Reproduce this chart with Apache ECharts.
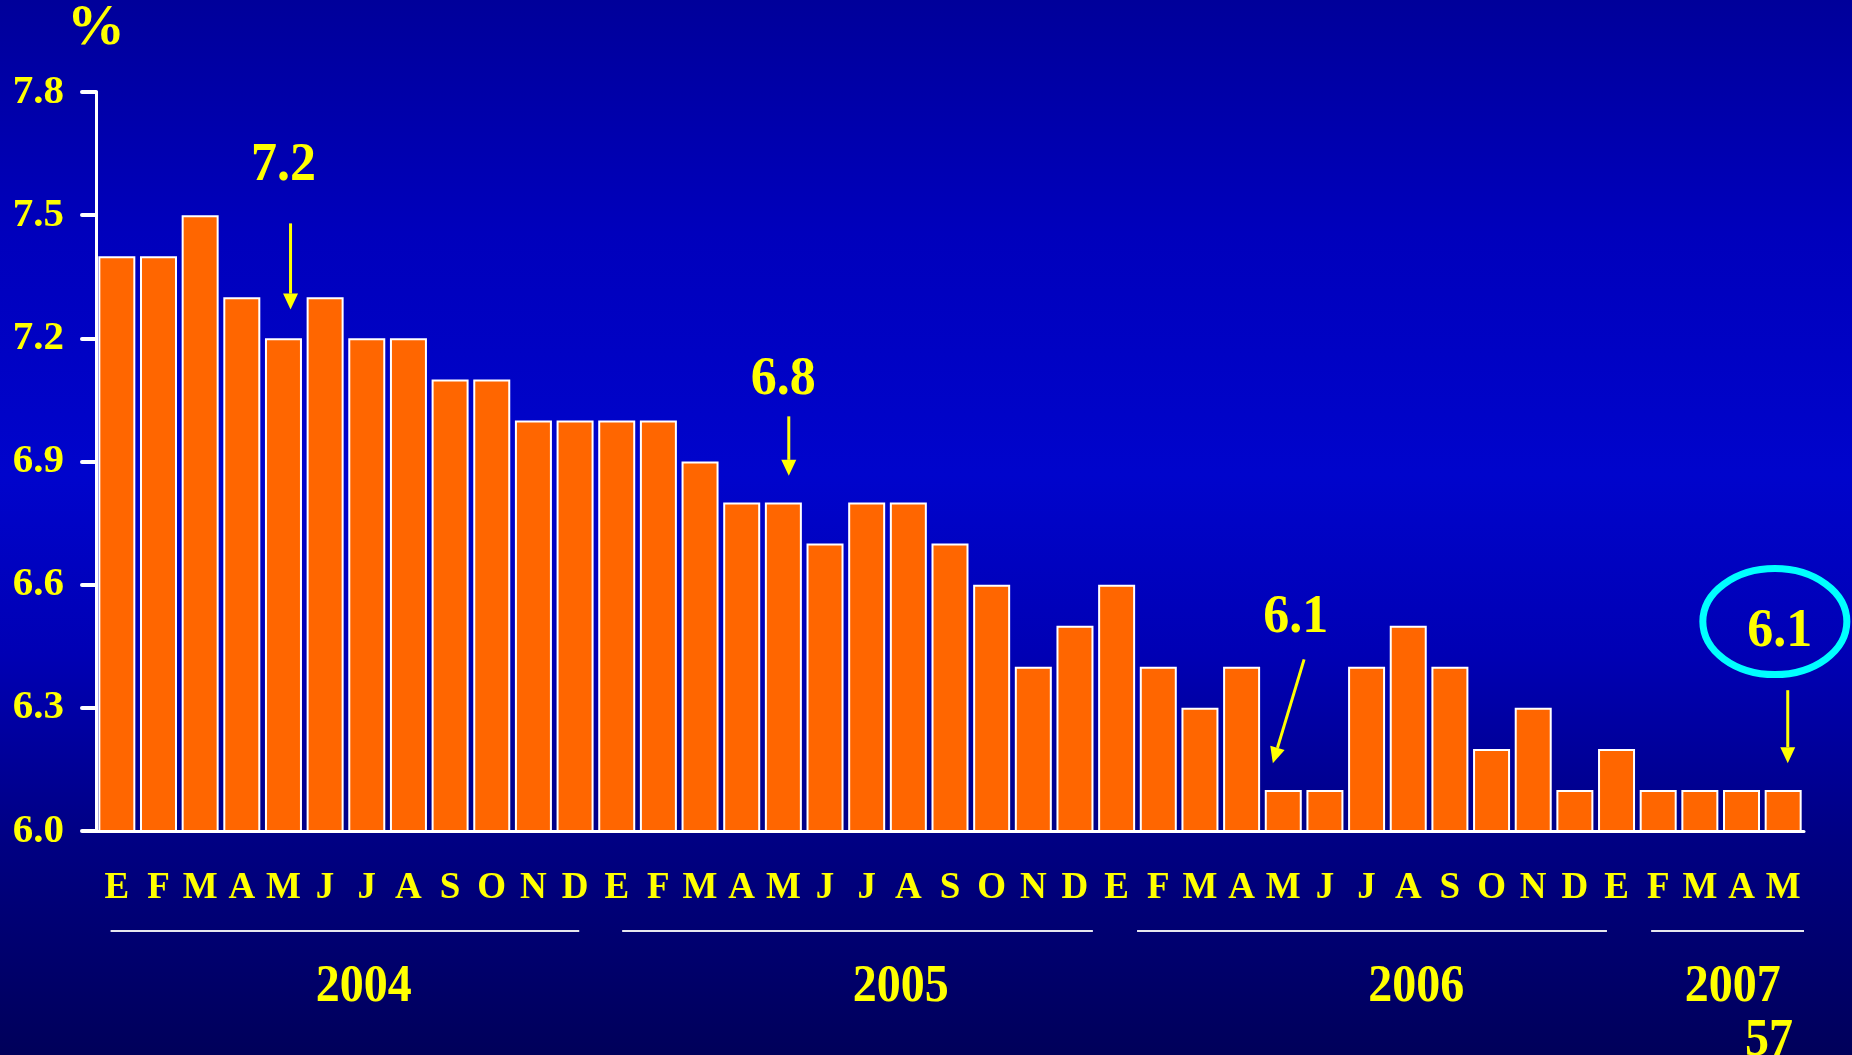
<!DOCTYPE html>
<html>
<head>
<meta charset="utf-8">
<script src="https://cdn.jsdelivr.net/npm/echarts@6/dist/echarts.min.js"></script>
<style>
  html, body { margin: 0; padding: 0; }
  #main { width: 1852px; height: 1055px; }
</style>
</head>
<body>
<div id="main"></div>
<script>
// months, Jan 2004 .. May 2007 (E = enero)
var months = [
  'E', 'F', 'M', 'A', 'M', 'J', 'J', 'A', 'S', 'O', 'N', 'D',
  'E', 'F', 'M', 'A', 'M', 'J', 'J', 'A', 'S', 'O', 'N', 'D',
  'E', 'F', 'M', 'A', 'M', 'J', 'J', 'A', 'S', 'O', 'N', 'D',
  'E', 'F', 'M', 'A', 'M'
]
var rate = [
  7.4, 7.4, 7.5, 7.3, 7.2, 7.3, 7.2, 7.2, 7.1, 7.1, 7.0, 7.0,
  7.0, 7.0, 6.9, 6.8, 6.8, 6.7, 6.8, 6.8, 6.7, 6.6, 6.4, 6.5,
  6.6, 6.4, 6.3, 6.4, 6.1, 6.1, 6.4, 6.5, 6.4, 6.2, 6.3, 6.1,
  6.2, 6.1, 6.1, 6.1, 6.1
]
var yMin = 6.0
var yMax = 7.8
var yStep = 0.3

// year groups under the axis: label, first/last category covered by the rule, label position
var years = ['2004', '2005', '2006', '2007']
var yearFrom = [-0.15, 12.13, 24.49, 36.83]
var yearTo = [11.1, 23.43, 35.77, 40.5]
var yearAt = [5.93, 18.82, 31.19, 38.79]

// callouts (category index, value)
var callouts = ['7.2', '6.8', '6.1', '6.1']
var calloutAt = [[4.0, 7.62], [16.0, 7.1], [28.3, 6.52], [39.92, 6.486]]
var arrowFrom = [[4.17, 7.48], [16.13, 7.01], [28.5, 6.418], [40.11, 6.343]]
var arrowTo = [[4.17, 7.27], [16.13, 6.865], [27.75, 6.165], [40.11, 6.165]]
var ringAt = [39.8, 6.51]

var SERIF = '"Liberation Serif", "Times New Roman", serif'
var YELLOW = '#FFFF00'

var chart = echarts.init(document.getElementById('main'))

var option = {
  backgroundColor: {
    type: 'linear', x: 0, y: 0, x2: 0, y2: 1,
    colorStops: [
      { offset: 0, color: '#00009A' },
      { offset: 0.22, color: '#0000BC' },
      { offset: 0.45, color: '#0004CC' },
      { offset: 0.62, color: '#0000B4' },
      { offset: 0.8, color: '#000082' },
      { offset: 1, color: '#00005A' }
    ]
  },
  animation: false,
  grid: { left: 96, right: 48, top: 90, bottom: 224 },
  xAxis: {
    type: 'category',
    data: months,
    axisLine: { lineStyle: { color: '#fff', width: 3 } },
    axisTick: { show: false },
    axisLabel: {
      interval: 0,
      margin: 39,
      color: YELLOW,
      fontFamily: SERIF,
      fontWeight: 'bold',
      fontSize: 37
    }
  },
  yAxis: {
    type: 'value',
    min: yMin,
    max: yMax,
    interval: yStep,
    name: '%',
    nameLocation: 'end',
    nameGap: 34,
    nameTextStyle: {
      color: YELLOW,
      fontFamily: SERIF,
      fontWeight: 'bold',
      fontSize: 58,
      padding: [0, 0, 0, 0],
      textShadowColor: '#000020',
      textShadowOffsetX: 3,
      textShadowOffsetY: 3
    },
    splitLine: { show: false },
    axisLine: { show: true, lineStyle: { color: '#fff', width: 3 } },
    axisTick: { show: true, inside: false, length: 14, lineStyle: { color: '#fff', width: 4, cap: 'round' } },
    axisLabel: {
      margin: 32,
      color: YELLOW,
      fontFamily: SERIF,
      fontWeight: 'bold',
      fontSize: 41,
      formatter: function (v) { return v.toFixed(1) }
    }
  },
  series: [{
    type: 'bar',
    data: rate,
    barWidth: 37,
    itemStyle: { color: '#FF6600', borderColor: '#FFFFFF', borderWidth: 2 }
  }]
}
chart.setOption(option)

function px(i, v) {
  var x0 = chart.convertToPixel({ xAxisIndex: 0 }, 0)
  var x1 = chart.convertToPixel({ xAxisIndex: 0 }, 1)
  return [x0 + i * (x1 - x0), chart.convertToPixel({ yAxisIndex: 0 }, v)]
}

function arrow(a, b) {
  var p = px(a[0], a[1])
  var q = px(b[0], b[1])
  var dx = q[0] - p[0]
  var dy = q[1] - p[1]
  var len = Math.sqrt(dx * dx + dy * dy)
  var ux = dx / len
  var uy = dy / len
  var head = 16
  var half = 7.5
  var bx = q[0] - ux * head
  var by = q[1] - uy * head
  return [
    { type: 'line', shape: { x1: p[0], y1: p[1], x2: bx, y2: by }, style: { stroke: YELLOW, lineWidth: 3 } },
    {
      type: 'polygon',
      shape: { points: [[q[0], q[1]], [bx - uy * half, by + ux * half], [bx + uy * half, by - ux * half]] },
      style: { fill: YELLOW }
    }
  ]
}

function buildGraphic() {
  var els = []
  var base = chart.convertToPixel({ yAxisIndex: 0 }, yMin)

  years.forEach(function (y, k) {
    var a = px(yearFrom[k], yMin)
    var b = px(yearTo[k], yMin)
    els.push({
      type: 'line',
      shape: { x1: a[0], y1: base + 100, x2: b[0], y2: base + 100 },
      style: { stroke: '#E6E6EE', lineWidth: 2 }
    })
    els.push({
      type: 'text',
      x: px(yearAt[k], yMin)[0],
      y: base + 156,
      scaleY: 1.1,
      style: {
        text: y, fill: YELLOW, fontFamily: SERIF, fontWeight: 'bold', fontSize: 48,
        align: 'center', verticalAlign: 'middle',
        textShadowColor: '#000020', textShadowOffsetX: 3, textShadowOffsetY: 3
      }
    })
  })

  // slide number
  els.push({
    type: 'text',
    x: px(39.66, yMin)[0],
    y: base + 210,
    scaleY: 1.1,
    style: {
      text: '57', fill: YELLOW, fontFamily: SERIF, fontWeight: 'bold', fontSize: 48,
      align: 'center', verticalAlign: 'middle',
      textShadowColor: '#000020', textShadowOffsetX: 3, textShadowOffsetY: 3
    }
  })

  callouts.forEach(function (t, k) {
    var p = px(calloutAt[k][0], calloutAt[k][1])
    els.push({
      type: 'text',
      x: p[0],
      y: p[1],
      scaleY: 1.06,
      style: {
        text: t, fill: YELLOW, fontFamily: SERIF, fontWeight: 'bold', fontSize: 52,
        align: 'center', verticalAlign: 'middle'
      }
    })
    els = els.concat(arrow(arrowFrom[k], arrowTo[k]))
  })

  var r = px(ringAt[0], ringAt[1])
  els.push({
    type: 'ellipse',
    shape: { cx: r[0], cy: r[1], rx: 72, ry: 53 },
    style: { fill: null, stroke: '#00FFFF', lineWidth: 7 }
  })
  return els
}

chart.setOption({ graphic: buildGraphic() })
</script>
</body>
</html>
